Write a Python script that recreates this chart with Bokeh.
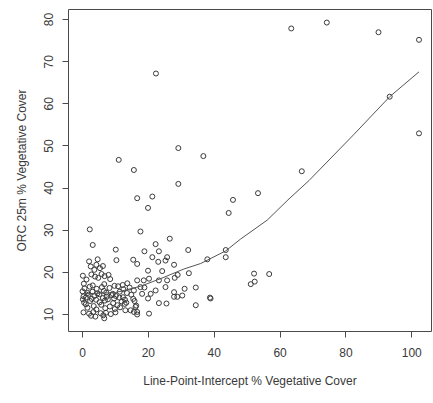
from bokeh.plotting import figure
from bokeh.models import Range1d, FixedTicker
from bokeh.embed import file_html
from bokeh.resources import INLINE

# Scatter data: Line-Point-Intercept % cover (x) vs ORC 25m % cover (y)
lpi_outliers = [63.4, 74.2, 89.9, 102.2, 93.3, 102.2, 36.7, 66.6, 53.3, 45.7, 44.4,
                22.3, 11.0, 15.6, 29.1, 29.1, 16.6, 21.2, 19.9, 43.5, 43.5, 37.9,
                52.1, 56.7, 52.3, 51.1, 38.9]
orc_outliers = [77.9, 79.3, 77.0, 75.2, 61.7, 53.0, 47.6, 44.0, 38.8, 37.2, 34.1,
                67.2, 46.7, 44.3, 49.5, 41.0, 37.6, 38.0, 35.3, 25.3, 23.6, 23.1,
                19.7, 19.6, 17.8, 17.2, 13.8]

lpi_mid = [2.2, 3.1, 17.6, 10.1, 18.8, 22.2, 26.5, 23.2, 32.1, 21.2, 25.7, 25.2, 23.0,
           15.4, 16.6, 19.9, 24.2, 27.8, 28.9, 32.3, 16.6, 18.6, 20.2, 17.6, 18.8,
           22.2, 15.6, 18.1, 20.7, 19.9, 23.2, 25.5, 27.8, 27.8, 28.8, 30.3, 31.0,
           34.4, 34.4, 38.7, 25.2, 23.2, 25.7, 28.0, 20.2, 16.6, 16.6, 13.0, 14.6,
           15.6, 16.1]
orc_mid = [30.2, 26.5, 29.7, 25.4, 25.0, 26.7, 28.0, 25.0, 25.3, 23.6, 23.6, 22.8, 22.5,
           23.0, 22.0, 20.4, 20.3, 21.8, 19.4, 19.8, 18.1, 18.1, 18.5, 16.5, 16.4,
           15.7, 15.7, 14.9, 14.9, 13.8, 12.7, 12.6, 15.3, 14.2, 14.2, 14.5, 16.1,
           16.4, 12.2, 14.0, 16.5, 18.1, 18.1, 18.7, 10.2, 10.0, 10.6, 11.0, 11.0,
           10.6, 11.8]

lpi_cluster = [2.0, 4.6, 10.3, 2.5, 4.2, 6.2, 3.6, 5.3, 0.1, 2.7, 3.8, 5.8, 6.7, 7.9,
               1.2, 4.8, 8.4, 0.4, 3.1, 6.6, 9.7, 12.2, 13.6, 0.6, 2.2, 4.3, 5.9,
               8.2, 10.8, 12.4, 14.3, 0.0, 1.6, 3.0, 4.5, 6.5, 7.2, 9.2, 11.3, 13.5,
               0.3, 1.8, 3.6, 5.1, 7.3, 8.9, 10.1, 12.3, 14.8, 0.1, 1.0, 2.8, 4.1,
               6.2, 7.7, 9.6, 11.2, 12.9, 15.4, 0.5, 2.3, 5.2, 6.8, 9.3, 11.9, 13.3,
               15.8, 1.0, 3.4, 5.7, 8.3, 10.6, 12.8, 16.3, 1.5, 4.2, 6.9, 9.8, 11.4,
               0.3, 2.0, 3.3, 5.5, 7.1, 8.6, 10.0, 2.6, 3.9, 6.3, 6.6]
orc_cluster = [22.6, 23.1, 22.9, 21.4, 21.8, 21.5, 20.6, 21.0, 19.2, 19.5, 19.0, 19.6,
               19.1, 19.4, 18.3, 18.7, 18.4, 17.3, 16.9, 17.2, 16.8, 17.0, 17.4,
               16.2, 16.6, 16.1, 16.5, 16.3, 16.7, 16.0, 16.4, 15.5, 15.1, 15.4,
               15.0, 15.6, 15.2, 14.9, 15.4, 15.1, 14.3, 14.7, 14.4, 14.8, 14.2,
               14.6, 14.4, 14.1, 14.7, 13.6, 14.0, 13.7, 13.5, 13.9, 13.6, 13.8,
               14.0, 13.5, 13.7, 12.8, 13.2, 12.9, 13.3, 12.7, 13.1, 12.8, 13.2,
               12.4, 12.0, 12.3, 11.9, 12.2, 12.5, 12.1, 11.6, 11.2, 11.5, 11.3,
               11.7, 10.5, 10.2, 10.6, 10.3, 10.4, 10.1, 10.5, 9.7, 9.5, 9.8, 9.1]

# Smoothed (lowess) curve
smooth_x = [0.0, 10.0, 17.6, 23.7, 30.8, 35.9, 43.5, 48.0, 56.1, 62.4, 68.8, 82.5, 93.3, 102.2]
smooth_y = [14.9, 15.2, 16.7, 18.5, 20.8, 22.1, 25.1, 27.9, 32.4, 37.2, 41.8, 52.8, 61.7, 67.6]

x_ticks = [0, 20, 40, 60, 80, 100]
y_ticks = [10, 20, 30, 40, 50, 60, 70, 80]

xs = lpi_outliers + lpi_mid + lpi_cluster
ys = orc_outliers + orc_mid + orc_cluster

p = figure(width=433, height=403, output_backend="svg", toolbar_location=None,
           x_range=Range1d(-4.26, 106.0), y_range=Range1d(5.96, 82.4),
           min_border_left=68, min_border_right=2, min_border_top=9, min_border_bottom=72)
p.background_fill_color = "white"
p.border_fill_color = "white"
p.grid.visible = False
p.outline_line_color = "#4a4a4a"
p.outline_line_width = 1

p.scatter(xs, ys, size=5, fill_color=None, line_color="#3a3a3a", line_width=1)
p.line(smooth_x, smooth_y, line_color="#555555", line_width=1)

for ax in (p.xaxis[0], p.yaxis[0]):
    ax.axis_line_color = None
    ax.major_tick_line_color = "#4a4a4a"
    ax.major_tick_out = 6
    ax.major_tick_in = 0
    ax.minor_tick_line_color = None
    ax.major_label_text_font = "Liberation Sans"
    ax.major_label_text_font_size = "12px"
    ax.major_label_text_color = "#3a3a3a"
    ax.axis_label_text_font = "Liberation Sans"
    ax.axis_label_text_font_size = "12px"
    ax.axis_label_text_font_style = "normal"
    ax.axis_label_text_color = "#3a3a3a"

p.xaxis.ticker = FixedTicker(ticks=x_ticks)
p.yaxis.ticker = FixedTicker(ticks=y_ticks)
p.xaxis.axis_label = "Line-Point-Intercept % Vegetative Cover"
p.yaxis.axis_label = "ORC 25m % Vegetative Cover"
p.yaxis.major_label_orientation = "vertical"
p.xaxis.major_label_standoff = 10
p.xaxis.axis_label_standoff = 14
p.yaxis.major_label_standoff = 9
p.yaxis.axis_label_standoff = 13

open("out.html", "w").write(file_html(p, INLINE))
